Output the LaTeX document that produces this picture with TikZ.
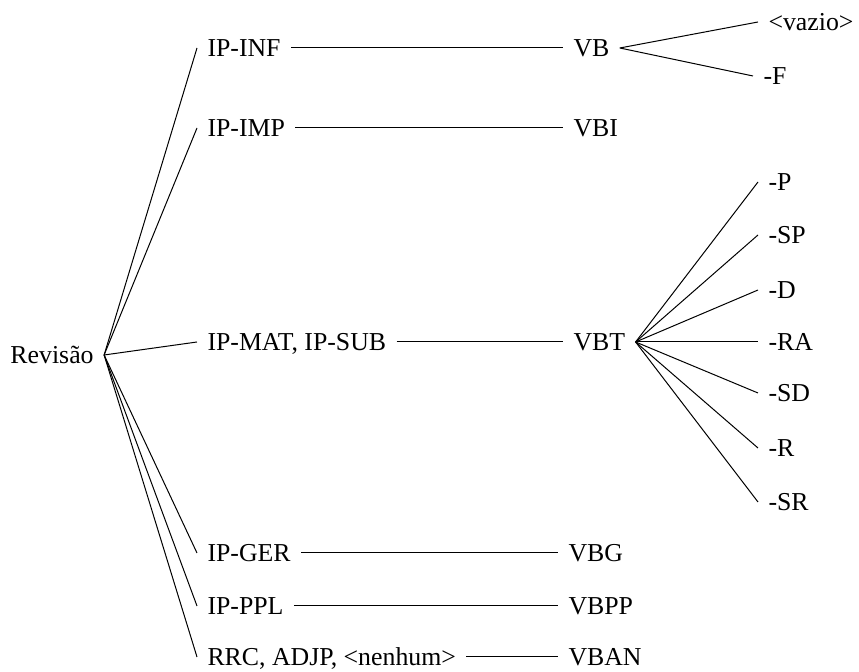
\documentclass[tikz,border=0pt]{standalone}
\usepackage{fontspec}
\setmainfont{Liberation Serif}
\usepackage{tikz}
\usetikzlibrary{calc}

\begin{document}
\begin{tikzpicture}[x=0.5pt,y=-0.5pt,
            every node/.style={anchor=west, inner xsep=5pt, inner ysep=0pt, text height=8.4pt, text depth=0pt, font=\fontsize{12.9}{15}\selectfont},
            every path/.style={line width=0.5pt}]
            \useasboundingbox (0,0) rectangle (859,672);
            \node (Rev) at (0,355) {Revisão};
            \node (IPinf) at (197,48) {IP-INF};
            \node (IPimp) at (197,128) {IP-IMP};
            \node (IPmat) at (197,342) {IP-MAT, IP-SUB};
            \node (IPger) at (197,553) {IP-GER};
            \node (IPppl) at (197,606) {IP-PPL};
            \node (RRC) at (197,657) {RRC, ADJP, <nenhum>};
            \node (VB) at (563,48) {VB};
            \node (VBI) at (563,128) {VBI};
            \node (VBT) at (563,342) {VBT};
            \node (VBG) at (558,553) {VBG};
            \node (VBPP) at (558,606) {VBPP};
            \node (VBAN) at (558,657) {VBAN};
            \node (Vazio) at (758,22) {<vazio>};
            \node (F) at (753,76) {-F};
            \node (P) at (758,182) {-P};
            \node (SP) at (758,235) {-SP};
            \node (D) at (758,290) {-D};
            \node (RA) at (758,342) {-RA};
            \node (SD) at (758,393) {-SD};
            \node (R) at (758,448) {-R};
            \node (SR) at (758,502) {-SR};
            \draw (Rev.east) -- (IPinf.west);
            \draw (Rev.east) -- (IPimp.west);
            \draw (Rev.east) -- (IPmat.west);
            \draw (Rev.east) -- (IPger.west);
            \draw (Rev.east) -- (IPppl.west);
            \draw (Rev.east) -- (RRC.west);
            \draw (IPinf) -- (VB);
            \draw (IPimp) -- (VBI);
            \draw (IPmat) -- (VBT);
            \draw (IPger) -- (VBG);
            \draw (IPppl) -- (VBPP);
            \draw (RRC) -- (VBAN);
            \draw (VB.east) -- (Vazio.west);
            \draw (VB.east) -- (F.west);
            \draw (VBT.east) -- (P.west);
            \draw (VBT.east) -- (SP.west);
            \draw (VBT.east) -- (D.west);
            \draw (VBT.east) -- (RA.west);
            \draw (VBT.east) -- (SD.west);
            \draw (VBT.east) -- (R.west);
            \draw (VBT.east) -- (SR.west);
        \end{tikzpicture}
\end{document}
